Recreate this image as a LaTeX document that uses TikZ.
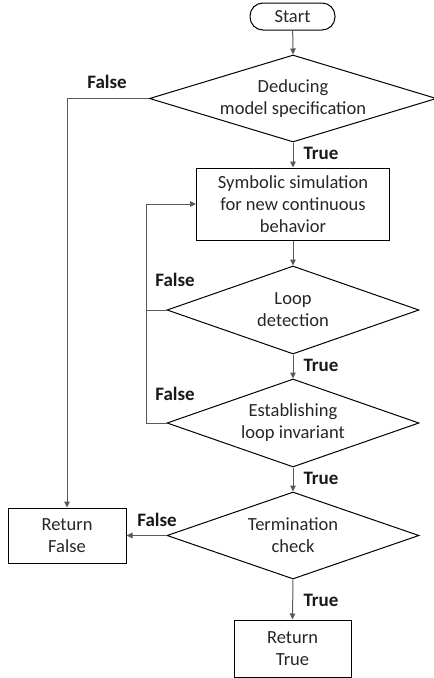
\documentclass[tikz,border=0pt]{standalone}
\usepackage{fontspec}
\setmainfont{Carlito}
\usetikzlibrary{shapes.geometric,arrows.meta}
\tikzset{
  base/.style={draw=black, line width=1pt, inner sep=0pt},
  terminal/.style={base, rounded corners=13pt, minimum width=85pt, minimum height=27pt},
  process/.style={base, rectangle},
  decision/.style={base, diamond},
  body/.style={align=center, font=\fontsize{18.5}{22}\selectfont, text=black!85},
  branch/.style={font=\bfseries\fontsize{19}{20}\selectfont, text=black!90},
  flow/.style={draw=black!65, line width=1pt, -{Triangle[length=6pt,width=5.5pt]}},
  plain/.style={draw=black!65, line width=1pt}
}
\begin{document}
\begin{tikzpicture}[x=1pt, y=-1pt]
  \useasboundingbox (0,0) rectangle (434,678);

  % start terminal
  \node[terminal] (start) at (292.5,16.5) {};
  \node[body] at (start) {Start};

  % first decision
  \node[decision, minimum width=287pt, minimum height=87pt] (d1) at (293,98.5) {};
  \node[body] at (d1) {Deducing\\model specification};

  % simulation step
  \node[process, minimum width=193pt, minimum height=72pt] (sym) at (293,204) {};
  \node[body] at (sym) {Symbolic simulation\\for new continuous\\behavior};

  % loop detection
  \node[decision, minimum width=252pt, minimum height=88pt] (d2) at (293,310) {};
  \node[body] at (d2) {Loop\\detection};

  % invariant
  \node[decision, minimum width=252pt, minimum height=88pt] (d3) at (293,423) {};
  \node[body] at (d3) {Establishing\\loop invariant};

  % termination
  \node[decision, minimum width=252pt, minimum height=87pt] (d4) at (293,535.5) {};
  \node[body] at (d4) {Termination\\check};

  % results
  \node[process, minimum width=118pt, minimum height=55pt] (rf) at (67,535.5) {};
  \node[body] at (rf) {Return\\False};
  \node[process, minimum width=117pt, minimum height=57pt] (rt) at (292.5,648.5) {};
  \node[body] at (rt) {Return\\True};

  % loop-back column
  \coordinate (lp) at (146,204);

  % connectors
  \draw[flow] (start) -- (d1.north);
  \draw[flow] (d1.west) -| (rf.north);
  \draw[flow] (d1.south) -- (sym.north);
  \draw[flow] (sym.south) -- (d2.north);
  \draw[plain] (d2.west) -- (d2.west -| lp);
  \draw[flow] (d3.west) -| (lp) -- (sym.west);
  \draw[flow] (d2.south) -- (d3.north);
  \draw[flow] (d3.south) -- (d4.north);
  \draw[flow] (d4.west) -- (rf.east);
  \draw[flow] (d4.south) -- (rt.north);

  % branch labels
  \node[branch] (f1) at (107,82) {False};
  \node[branch] (t1) at (321,153) {True};
  \node[branch] (f2) at (175,280) {False};
  \node[branch] (t2) at (321,365) {True};
  \node[branch] (f3) at (175,394) {False};
  \node[branch] (t3) at (321,478) {True};
  \node[branch] (f4) at (157,520) {False};
  \node[branch] (t4) at (321,600) {True};
\end{tikzpicture}
\end{document}
